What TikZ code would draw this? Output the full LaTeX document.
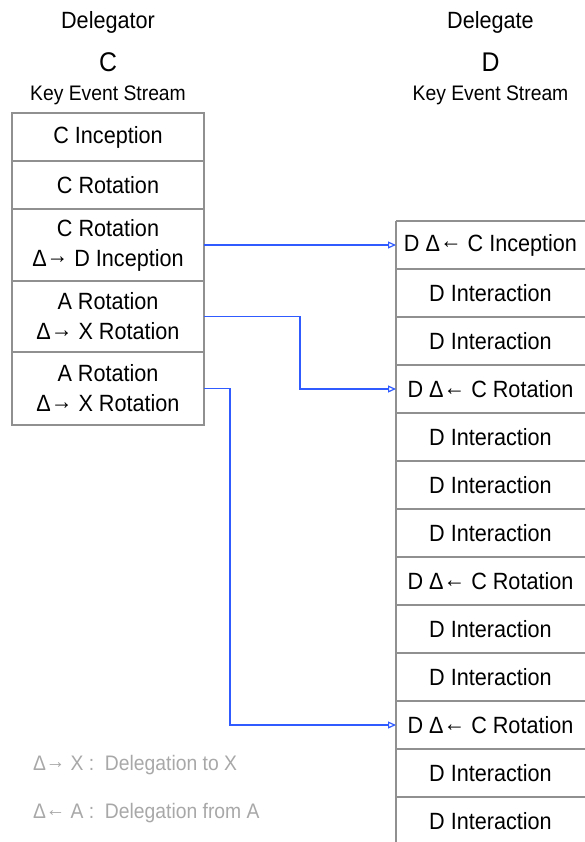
\documentclass[tikz,border=0pt]{standalone}
\usepackage{fontspec}
\setmainfont{Liberation Sans}[FakeStretch=0.92]
\usetikzlibrary{arrows.meta}
\definecolor{rulegray}{HTML}{909090}
\definecolor{linkblue}{HTML}{2F5BFF}
\definecolor{notegray}{HTML}{A8A8A8}
\newcommand\dto{Δ\raisebox{.1em}{→}}
\newcommand\dfrom{Δ\raisebox{.1em}{←}}
\tikzset{
  txt/.style={font=\fontsize{23.5}{30}\selectfont,inner sep=0pt,outer sep=0pt},
  small/.style={font=\fontsize{21}{24}\selectfont},
  cell/.style={txt,draw=rulegray,line width=1.4pt,minimum width=192,align=center},
  dcell/.style={txt,minimum width=189,minimum height=48},
  rule/.style={draw=rulegray,line width=1.4pt},
  link/.style={draw=linkblue,line width=1.2pt,-{Triangle[open,length=8pt,width=7pt]}},
  note/.style={txt,small,text=notegray,anchor=west}}
\begin{document}
\begin{tikzpicture}[x=1pt,y=-1pt]
\useasboundingbox(0,0)rectangle(585,842);
\node[txt](hc) at(108,22){Delegator};\node[txt](hd) at(490.5,22){Delegate};
\node[txt,font=\fontsize{27}{30}\selectfont](nc) at(108,62){C};
\node[txt,font=\fontsize{27}{30}\selectfont](nd) at(490.5,62){D};
\node[txt,small](kc) at(108,95){Key Event Stream};
\node[txt,small](kd) at(490.5,95){Key Event Stream};
\node[cell,minimum height=48](c1) at(108,137){C Inception};
\node[cell,minimum height=48](c2) at(108,185){C Rotation};
\node[cell,minimum height=72](c3) at(108,245){C Rotation\\\dto{} D Inception};
\node[cell,minimum height=71](c4) at(108,316.5){A Rotation\\\dto{} X Rotation};
\node[cell,minimum height=73](c5) at(108,388.5){A Rotation\\\dto{} X Rotation};
\draw[rule](396,221)--(396,842);
\foreach \k in {0,...,12}\draw[rule](396,{221+48*\k})--(585,{221+48*\k});
\foreach \t[count=\k] in {D \dfrom{} C Inception,D Interaction,D Interaction,D \dfrom{} C Rotation,
  D Interaction,D Interaction,D Interaction,D \dfrom{} C Rotation,D Interaction,D Interaction,
  D \dfrom{} C Rotation,D Interaction,D Interaction}\node[dcell](d\k) at(490.5,{197+48*\k}){\t};
\draw[link](c3.east)--(d1.west);
\draw[link](c4.east)--++(96,0)|-(d4.west);
\draw[link](c5.east)--++(26,0)|-(d11.west);
\node[note](n1) at(33,765){\dto{} X :~ Delegation to X};
\node[note](n2) at(33,813){\dfrom{} A :~ Delegation from A};
\end{tikzpicture}
\end{document}
